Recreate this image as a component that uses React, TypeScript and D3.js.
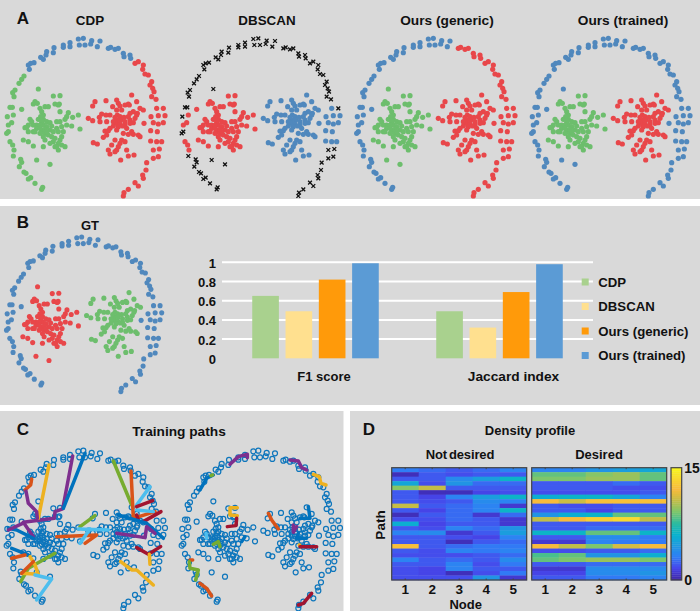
import React from "react";
import * as d3 from "d3";

type Pt = [number, number];

// embedded point cloud (same cloud in every panel)
const ringLowerLeft: Pt[] = [[125, 568], [128, 562], [105, 550], [92, 533], [85, 537], [78, 520], [72, 516], [58, 500], [62, 478], [65, 487], [40, 468], [25, 395], [20, 400], [22, 350], [30, 322], [37, 322], [42, 290], [38, 278], [45, 270], [57, 250], [65, 238], [72, 228]];
const ringLowerLeftCore: Pt[] = [[42, 450], [38, 435], [30, 425], [35, 368], [25, 375], [40, 345], [65, 328]];
const strays: Pt[] = [[115, 267], [110, 480], [150, 493]];
const ringTop: Pt[] = [[85, 195], [92, 190], [102, 188], [88, 208], [122, 172], [130, 178], [138, 165], [140, 155], [160, 158], [162, 143], [190, 135], [190, 142], [210, 128], [210, 140], [235, 117], [250, 115], [238, 135], [255, 135], [275, 122], [272, 132], [292, 140], [300, 123]];
const ringTopRight: Pt[] = [[325, 145], [332, 142], [345, 148], [355, 145], [370, 160], [372, 170], [390, 165], [392, 175]];
const ringRight: Pt[] = [[405, 190], [415, 185], [430, 195], [428, 208], [435, 222], [445, 225], [455, 245], [450, 255], [458, 265], [462, 275], [455, 290], [468, 298], [490, 325], [478, 447], [460, 450], [475, 470], [460, 475], [440, 488], [438, 510], [430, 535], [428, 525], [405, 548], [415, 558], [385, 568], [372, 578], [370, 588]];
const ringRightCore: Pt[] = [[470, 325], [453, 350], [475, 347], [495, 347], [460, 368], [475, 372], [490, 368], [432, 370], [452, 392], [472, 395], [470, 425], [485, 425], [452, 423]];
const clusterLeft: Pt[] = [[105, 305], [112, 310], [100, 312], [160, 288], [180, 287], [178, 312], [165, 312], [175, 315], [135, 320], [145, 320], [120, 325], [180, 335], [125, 335], [130, 345], [205, 338], [200, 350], [235, 345], [218, 352], [195, 358], [122, 350], [130, 358], [90, 358], [95, 365], [85, 375], [80, 382], [75, 383], [110, 375], [115, 380], [125, 370], [130, 375], [140, 365], [150, 368], [155, 378], [170, 365], [180, 365], [185, 380], [200, 375], [215, 378], [240, 387], [130, 390], [125, 395], [110, 385], [100, 395], [85, 395], [105, 395], [135, 400], [150, 390], [170, 385], [175, 395], [190, 395], [185, 410], [165, 415], [160, 425], [150, 430], [175, 430], [185, 435], [195, 440], [175, 450], [170, 440], [135, 420], [130, 410], [130, 440], [70, 420], [85, 425], [100, 438], [120, 400], [140, 380], [115, 358], [125, 362], [120, 375], [135, 388], [160, 395], [145, 405], [155, 410], [180, 420], [165, 440], [120, 385], [140, 395], [100, 375]];
const clusterRight: Pt[] = [[285, 305], [278, 318], [318, 302], [350, 300], [355, 310], [395, 285], [385, 312], [410, 305], [338, 320], [360, 318], [375, 315], [388, 315], [350, 330], [365, 330], [420, 325], [430, 330], [400, 335], [390, 340], [412, 340], [330, 345], [318, 345], [305, 342], [298, 352], [352, 345], [360, 350], [350, 360], [362, 360], [375, 365], [350, 370], [360, 372], [390, 360], [405, 355], [410, 345], [265, 355], [278, 362], [300, 365], [320, 365], [340, 378], [355, 380], [375, 375], [390, 370], [400, 368], [315, 393], [325, 392], [320, 405], [310, 412], [350, 390], [370, 400], [385, 403], [400, 403], [415, 405], [420, 410], [365, 420], [360, 430], [345, 420], [335, 435], [355, 440], [375, 425], [280, 428], [292, 432], [325, 450], [330, 462], [350, 450], [380, 450], [385, 468], [402, 465], [362, 480], [345, 455], [345, 352], [372, 352], [385, 350], [340, 365], [368, 378], [380, 385], [330, 385], [395, 395]];

// training paths, same units as the cloud
const pathsLeft: [string, Pt[]][] = [
  ["#7E2F8E", [[218, 131], [188, 290], [165, 298], [163, 318], [70, 330], [100, 373]]],
  ["#0072BD", [[255, 123], [190, 288]]],
  ["#EDB120", [[147, 158], [115, 318]]],
  ["#D95319", [[95, 200], [92, 218], [75, 233]]],
  ["#7E2F8E", [[78, 236], [85, 273], [110, 298], [112, 318]]],
  ["#0072BD", [[25, 348], [50, 353], [100, 378]]],
  ["#7E2F8E", [[25, 353], [68, 333]]],
  ["#77AC30", [[285, 310], [240, 343]]],
  ["#D95319", [[170, 373], [290, 368], [255, 393]]],
  ["#4DBEEE", [[235, 350], [325, 353]]],
  ["#4DBEEE", [[270, 350], [240, 393]]],
  ["#77AC30", [[165, 423], [85, 468], [62, 508]]],
  ["#0072BD", [[35, 408], [85, 428]]],
  ["#D95319", [[35, 438], [75, 428]]],
  ["#EDB120", [[90, 433], [105, 458], [115, 486], [65, 483]]],
  ["#D95319", [[65, 483], [100, 448]]],
  ["#4DBEEE", [[105, 488], [155, 500], [110, 563]]],
  ["#77AC30", [[340, 146], [395, 278]]],
  ["#4DBEEE", [[450, 223], [410, 278]]],
  ["#D95319", [[393, 176], [400, 318], [465, 298]]],
  ["#4DBEEE", [[410, 293], [460, 298]]],
  ["#A2142F", [[410, 283], [458, 265]]],
  ["#A2142F", [[430, 328], [483, 298]]],
  ["#A2142F", [[415, 323], [410, 308]]],
  ["#0072BD", [[355, 308], [440, 333], [490, 378]]],
  ["#7E2F8E", [[350, 363], [435, 376], [440, 343], [465, 363]]],
  ["#A2142F", [[410, 406], [445, 426], [482, 403]]],
  ["#EDB120", [[448, 426], [450, 456]]],
  ["#EDB120", [[362, 448], [395, 473], [410, 473], [460, 518]]],
];
const pathsRight: [string, Pt[]][] = [
  ["#7E2F8E", [[165, 156], [190, 133], [217, 126], [217, 136]]],
  ["#7E2F8E", [[345, 143], [370, 146], [380, 166], [395, 173]]],
  ["#EDB120", [[415, 186], [433, 193], [438, 213], [453, 218]]],
  ["#0072BD", [[75, 233], [95, 198], [115, 188]]],
  ["#77AC30", [[108, 190], [113, 188]]],
  ["#EDB120", [[187, 286], [165, 286], [165, 308], [187, 310]]],
  ["#A2142F", [[185, 318], [183, 340], [157, 343]]],
  ["#D95319", [[280, 303], [290, 323], [310, 350]]],
  ["#4DBEEE", [[93, 363], [95, 378]]],
  ["#77AC30", [[115, 396], [130, 388], [135, 403]]],
  ["#0072BD", [[400, 283], [405, 318], [375, 318]]],
  ["#0072BD", [[370, 363], [365, 378], [395, 378]]],
  ["#0072BD", [[210, 373], [200, 388]]],
  ["#7E2F8E", [[355, 338], [355, 360], [365, 343]]],
  ["#EDB120", [[373, 398], [377, 403]]],
  ["#A2142F", [[375, 403], [425, 403]]],
  ["#D95319", [[45, 443], [53, 443]]],
  ["#77AC30", [[43, 448], [45, 468], [70, 473], [62, 503]]],
  ["#D95319", [[75, 513], [95, 528], [110, 551]]],
  ["#A2142F", [[410, 543], [385, 573], [370, 578]]],
];

// bar chart
const barMethods = ["CDP", "DBSCAN", "Ours (generic)", "Ours (trained)"];
const barCategories = ["F1 score", "Jaccard index"];
const f1Values = [0.65, 0.49, 0.82, 0.99];
const jaccardValues = [0.49, 0.32, 0.69, 0.98];
const barTicks = [0, 0.2, 0.4, 0.6, 0.8, 1];
const barColors = ["#A9D18E", "#FFE08F", "#FF9A0A", "#5B9BD5"];

// density profiles: 25 paths x 5 nodes
const notDesired = [
  [3, 2.5, 2, 2.5, 3.3], [0.4, 2, 1.7, 2, 2], [2, 2, 3.7, 4.7, 6.2], [5.2, 1.7, 4.2, 2.5, 2.5], [9.2, 10.6, 2, 2, 2],
  [2, 0.4, 0.4, 1.4, 1.7], [2, 1.4, 3.3, 4.7, 6.2], [2, 1.7, 2, 3.7, 3.3], [10.6, 2, 2.5, 3.3, 0.9], [2, 1.4, 2.5, 3.3, 6.2],
  [0.4, 2, 2.5, 0.9, 2.5], [1.7, 1.7, 2.5, 2, 0.9], [5.7, 1.4, 2, 2, 0.9], [2, 1.7, 3.3, 2.5, 4.2], [3.3, 3.7, 0.9, 2, 4.7],
  [2, 2, 1.7, 1.4, 3.3], [2, 2, 0.4, 2, 2.5], [12.2, 2, 2.5, 2.9, 2.9], [2, 1.7, 3.3, 2.9, 3.3], [1.7, 1.7, 1.7, 2, 2.5],
  [3.3, 2, 2.5, 2, 3.7], [2, 2, 3.3, 1.7, 2.9], [1.7, 1.4, 3.3, 2, 2], [1.7, 1.4, 0.4, 1.7, 2.9], [1.7, 1.7, 1.7, 4.2, 0.9],
];
const desired = [
  [3.3, 3.3, 4.2, 4.7, 5.2], [8.5, 8.5, 9.2, 9.6, 8.5], [9, 9, 9.6, 9.6, 8.5], [2, 2, 2, 2.5, 2], [2, 2, 2, 1.7, 1.7],
  [1.7, 1.7, 1.7, 1.7, 2], [5.7, 6.2, 6.2, 5.2, 3.3], [12, 10.8, 12.2, 12.2, 12.2], [2, 1.7, 1.7, 2, 2], [2, 2, 1.4, 2, 2],
  [4.2, 5.7, 6.2, 8.5, 8.5], [10.5, 12, 13, 13.5, 10.5], [2, 2, 2, 2, 2], [2, 2, 2.5, 2.5, 2.5], [6.2, 6.2, 8.5, 8.5, 6.2],
  [2, 2, 3.7, 3.7, 2.9], [0.9, 0.9, 3.3, 2.9, 2.9], [12, 10.5, 9, 11, 12], [1.7, 1.7, 2, 2, 2.5], [8, 8.5, 4.2, 4.2, 5.7],
  [8.5, 9, 9.6, 9.6, 9], [2, 2, 2.5, 2.5, 2.5], [0.9, 0.9, 3.7, 3.7, 3.7], [1.4, 1.4, 3.7, 3.7, 4.2], [2, 2, 2.9, 2.9, 3.3],
];
const nodes = [1, 2, 3, 4, 5];
const parulaStops = ["#3E26A8", "#4746EB", "#2F7EF6", "#1E9AE0", "#07B3CD", "#2EBB9E", "#7DC66C", "#C1BD47", "#F8BB3A", "#F8D92F", "#F9FB15"];

const RED = "#E8474A";
const BLUE = "#5088BD";
const GREEN = "#6DBE6D";
const CROSS = "x";
const GREY = "#D9D9D9";
const FONT = "'Liberation Sans', Arial, sans-serif";

// segment -> colour per method
const segments: [Pt[], Record<string, string>][] = [
  [ringLowerLeft, { cdp: GREEN, db: CROSS, gen: BLUE, tr: BLUE, gt: BLUE }],
  [ringLowerLeftCore, { cdp: GREEN, db: RED, gen: BLUE, tr: BLUE, gt: BLUE }],
  [strays, { cdp: GREEN, db: CROSS, gen: GREEN, tr: BLUE, gt: RED }],
  [ringTop, { cdp: BLUE, db: CROSS, gen: BLUE, tr: BLUE, gt: BLUE }],
  [ringTopRight, { cdp: BLUE, db: CROSS, gen: RED, tr: BLUE, gt: BLUE }],
  [ringRight, { cdp: RED, db: CROSS, gen: RED, tr: BLUE, gt: BLUE }],
  [ringRightCore, { cdp: RED, db: BLUE, gen: RED, tr: BLUE, gt: BLUE }],
  [clusterLeft, { cdp: GREEN, db: RED, gen: GREEN, tr: GREEN, gt: RED }],
  [clusterRight, { cdp: RED, db: BLUE, gen: RED, tr: RED, gt: GREEN }],
];

const allPoints = segments.flatMap((s) => s[0]);
const cloudX = d3.scaleLinear().domain([0, 510]).range([0, 170]);
const cloudY = d3.scaleLinear().domain([0, 600]).range([0, 200]);

const crossPath = d3.symbol().type(d3.symbolTimes).size(11)() as string;
const pathLine = d3.line<Pt>().x((d) => cloudX(d[0])).y((d) => cloudY(d[1]));

function Title({ x, y, size = 13, children, anchor = "middle", ...rest }: any) {
  return (
    <text x={x} y={y} fontSize={size} fontWeight="bold" fill="#111" textAnchor={anchor} dominantBaseline="central" {...rest}>
      {children}
    </text>
  );
}

function Cloud({ method, tx, ty, k = 1 }: { method: string; tx: number; ty: number; k?: number }) {
  return (
    <g transform={`translate(${tx},${ty}) scale(${k})`}>
      {segments.map(([pts, colors], i) =>
        pts.map((p, j) =>
          colors[method] === CROSS ? (
            <path key={`${i}-${j}`} d={crossPath} transform={`translate(${cloudX(p[0])},${cloudY(p[1])})`} stroke="#111" strokeWidth={1.3} fill="none" />
          ) : (
            <circle key={`${i}-${j}`} cx={cloudX(p[0])} cy={cloudY(p[1])} r={2.6} fill={colors[method]} />
          )
        )
      )}
    </g>
  );
}

function TrainingPanel({ paths, tx, ty }: { paths: [string, Pt[]][]; tx: number; ty: number }) {
  return (
    <g transform={`translate(${tx},${ty})`}>
      {allPoints.map((p, i) => (
        <circle key={i} cx={cloudX(p[0])} cy={cloudY(p[1])} r={2.5} fill="none" stroke="#0E76BC" strokeWidth={1.2} />
      ))}
      {paths.map(([color, pts], i) => (
        <path key={i} d={pathLine(pts) as string} fill="none" stroke={color} strokeWidth={3.5} strokeLinecap="round" strokeLinejoin="round" />
      ))}
    </g>
  );
}

function BarChart() {
  const y = d3.scaleLinear().domain([0, 1]).range([358.3, 262.3]);
  const groupX = d3.scaleBand().domain(barCategories).range([223.5, 591.5]);
  const barX = d3.scaleBand().domain(barMethods).range([-66.6, 66.6]).paddingInner(0.2).paddingOuter(0.1);
  const series = [f1Values, jaccardValues];
  const labelShift = [8.5, 14];
  const legendY = d3.scalePoint().domain(barMethods).range([282, 355.5]);
  return (
    <g>
      {barTicks.filter((t) => t > 0).map((t) => (
        <line key={t} x1={222} x2={593} y1={y(t)} y2={y(t)} stroke="#fff" strokeWidth={2} />
      ))}
      {barTicks.map((t) => (
        <Title key={t} x={216} y={y(t) + 1} anchor="end">{t}</Title>
      ))}
      {barCategories.map((c, g) => {
        const cx = (groupX(c) as number) + groupX.bandwidth() / 2;
        return (
          <g key={c}>
            {barMethods.map((m, i) => (
              <rect key={m} x={cx + (barX(m) as number)} y={y(series[g][i])} width={barX.bandwidth()} height={y(0) - y(series[g][i])} fill={barColors[i]} />
            ))}
            <Title x={cx + labelShift[g]} y={376} size={g === 0 ? 13 : 13.7}>{c}</Title>
          </g>
        );
      })}
      {barMethods.map((m, i) => (
        <g key={m}>
          <rect x={581.7} y={(legendY(m) as number) - 3.5} width={7} height={7} fill={barColors[i]} />
          <Title x={598.3} y={legendY(m)} anchor="start" size={13.2}>{m}</Title>
        </g>
      ))}
    </g>
  );
}

const parula = d3.scaleLinear<string>()
  .domain(parulaStops.map((_, i) => (i * 15) / (parulaStops.length - 1)))
  .range(parulaStops)
  .interpolate(d3.interpolateRgb);

function Heatmap({ rows, x0, x1, y0, y1 }: { rows: number[][]; x0: number; x1: number; y0: number; y1: number }) {
  const cx = d3.scaleBand<number>().domain(nodes).range([x0, x1]);
  const cy = d3.scaleBand<number>().domain(d3.range(rows.length)).range([y0, y1]);
  return (
    <g>
      {rows.map((row, r) =>
        row.map((v, c) => (
          <rect key={`${r}-${c}`} x={cx(nodes[c])} y={cy(r)} width={cx.bandwidth() + 0.3} height={cy.bandwidth() + 0.3} fill={parula(v)} />
        ))
      )}
      <rect x={x0} y={y0} width={x1 - x0} height={y1 - y0} fill="none" stroke="#444" strokeWidth={1.2} />
      {nodes.map((n) => (
        <g key={n}>
          <line x1={(cx(n) as number) + cx.bandwidth() / 2} x2={(cx(n) as number) + cx.bandwidth() / 2} y1={y0} y2={y0 + 1.5} stroke="#444" />
          <line x1={(cx(n) as number) + cx.bandwidth() / 2} x2={(cx(n) as number) + cx.bandwidth() / 2} y1={y1} y2={y1 - 1.5} stroke="#444" />
          <Title x={(cx(n) as number) + cx.bandwidth() / 2} y={y1 + 9.5} size={13.5}>{n}</Title>
        </g>
      ))}
    </g>
  );
}

function ColorBar({ x, y0, y1 }: { x: number; y0: number; y1: number }) {
  const y = d3.scaleLinear().domain([0, 15]).range([y1, y0]);
  const steps = d3.range(0, 15, 0.25);
  return (
    <g>
      {steps.map((v) => (
        <rect key={v} x={x} y={y(v + 0.25)} width={10.7} height={y(v) - y(v + 0.25) + 0.3} fill={parula(v)} />
      ))}
      <rect x={x} y={y0} width={10.7} height={y1 - y0} fill="none" stroke="#444" strokeWidth={1.2} />
      <Title x={x + 13.3} y={y(15)} size={14} anchor="start">15</Title>
      <Title x={x + 13.3} y={y(0)} size={14} anchor="start">0</Title>
    </g>
  );
}

export default function App() {
  return (
    <svg width={700} height={611} style={{ position: "absolute", left: 0, top: 0, display: "block", background: "#fff" }} fontFamily={FONT}>
      <rect x={0} y={0} width={700} height={199} fill={GREY} />
      <rect x={0} y={206} width={700} height={199} fill={GREY} />
      <rect x={0} y={411} width={343.5} height={200} fill={GREY} />
      <rect x={350} y={411} width={350} height={200} fill={GREY} />

      <Title x={23} y={18} size={17}>A</Title>
      <Title x={90} y={20} size={13.4}>CDP</Title>
      <Title x={267} y={20} size={13.4}>DBSCAN</Title>
      <Title x={447} y={20} size={13.7}>Ours (generic)</Title>
      <Title x={623} y={20} size={13.7}>Ours (trained)</Title>
      <Cloud method="cdp" tx={0} ty={0} />
      <Cloud method="db" tx={175} ty={0} />
      <Cloud method="gen" tx={350} ty={0} />
      <Cloud method="tr" tx={525} ty={0} />

      <Title x={23} y={222} size={17}>B</Title>
      <Title x={90} y={225}>GT</Title>
      <Cloud method="gt" tx={0} ty={199.5} k={0.98} />
      <BarChart />

      <Title x={23} y={429} size={17}>C</Title>
      <Title x={179} y={431} size={13.7}>Training paths</Title>
      <TrainingPanel paths={pathsLeft} tx={0} ty={412.3} />
      <TrainingPanel paths={pathsRight} tx={175} ty={412.3} />

      <Title x={369} y={429} size={17}>D</Title>
      <Title x={530} y={430.7}>Density profile</Title>
      <Title x={460} y={454.3} wordSpacing={-1.5} letterSpacing={-0.15}>Not desired</Title>
      <Title x={599} y={454.3}>Desired</Title>
      <Heatmap rows={notDesired} x0={391.7} x1={526.7} y0={467.7} y1={580} />
      <Heatmap rows={desired} x0={531.7} x1={666.7} y0={467.7} y1={580} />
      <ColorBar x={671} y0={467.7} y1={580} />
      <Title x={465.7} y={604.5} size={13}>Node</Title>
      <Title x={0} y={0} size={13.5} transform="translate(380.7,525) rotate(-90)">Path</Title>
    </svg>
  );
}
